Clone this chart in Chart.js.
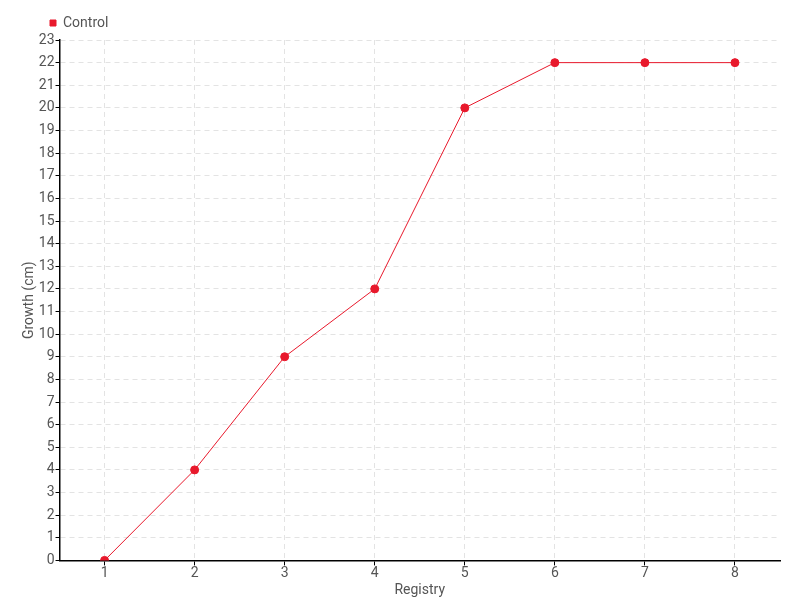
<!DOCTYPE html>
<html>
<head>
<meta charset="utf-8">
<script src="https://cdn.jsdelivr.net/npm/chart.js@4/dist/chart.umd.min.js"></script>
<style>
html,body{margin:0;padding:0;background:#fff;}
#wrap{width:800px;height:600px;}
</style>
</head>
<body>
<div id="wrap"><canvas id="c" width="800" height="600"></canvas></div>
<script>
const categories = ["1","2","3","4","5","6","7","8"];
const controlValues = [0, 4, 9, 12, 20, 22, 22, 22];
const seriesName = "Control";
const xTitle = "Registry";
const yTitle = "Growth (cm)";

const FONT = "Roboto, 'Liberation Sans', sans-serif";
const RED = "#e8192c";
const TXT = "#555";

const legendShift = {
  id: 'legendShift',
  beforeDraw(chart) {
    if (chart.legend) {
      const w = chart.legend.right - chart.legend.left;
      chart.legend.left = 44;
      chart.legend.right = 44 + w;
    }
  }
};

new Chart(document.getElementById('c'), {
  type: 'line',
  data: {
    labels: categories,
    datasets: [{
      label: seriesName,
      data: controlValues,
      borderColor: RED,
      backgroundColor: RED,
      borderWidth: 1,
      pointRadius: 4,
      pointHoverRadius: 4,
      pointBackgroundColor: RED,
      pointBorderColor: RED,
      tension: 0
    }]
  },
  plugins: [legendShift],
  options: {
    responsive: false,
    animation: false,
    layout: { padding: { left: 15, right: 20, top: 10, bottom: 1 } },
    plugins: {
      legend: {
        position: 'top',
        align: 'start',
        labels: {
          usePointStyle: true,
          pointStyle: 'rect',
          boxWidth: 6,
          boxHeight: 6,
          padding: 6,
          color: TXT,
          font: { family: FONT, size: 14 }
        }
      },
      tooltip: { enabled: false }
    },
    scales: {
      x: {
        type: 'category',
        offset: true,
        grid: {
          offset: false,
          color: '#e3e3e3',
          tickColor: '#000',
          tickLength: 5,
          tickBorderDash: [],
          drawOnChartArea: true
        },
        border: { color: '#000', width: 1.5, dash: [5, 4] },
        ticks: { color: TXT, font: { family: FONT, size: 14 }, padding: 0 },
        title: { display: true, text: xTitle, color: TXT, font: { family: FONT, size: 14 }, padding: 0 }
      },
      y: {
        min: 0,
        max: 23,
        ticks: { stepSize: 1, color: TXT, font: { family: FONT, size: 14 }, padding: 1 },
        grid: {
          color: '#e3e3e3',
          tickColor: '#000',
          tickLength: 4,
          tickBorderDash: []
        },
        border: { color: '#000', width: 1.5, dash: [5, 4] },
        title: { display: true, text: yTitle, color: TXT, font: { family: FONT, size: 14 }, padding: { top: 6, bottom: 0 } }
      }
    }
  }
});
</script>
</body>
</html>
